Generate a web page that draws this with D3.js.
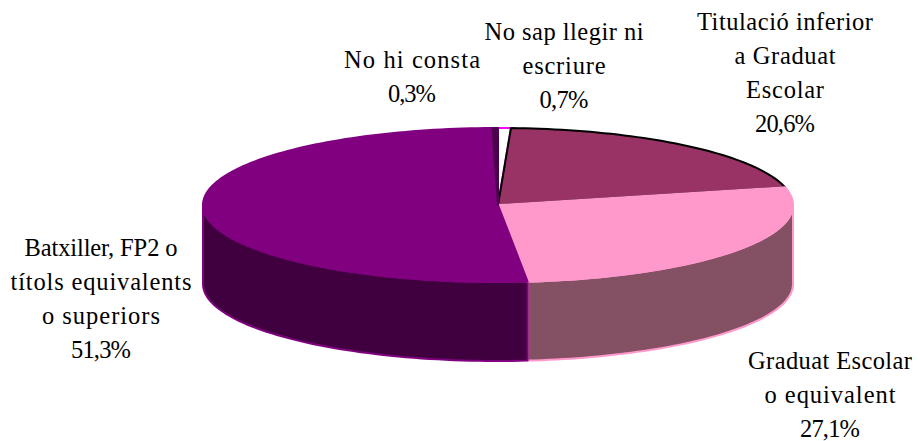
<!DOCTYPE html>
<html>
<head>
<meta charset="utf-8">
<script src="https://cdn.jsdelivr.net/npm/d3@7"></script>
<style>
  html, body { margin: 0; background: #fff; }
  text { font-family: "Liberation Serif", serif; font-size: 24.5px; fill: #000; }
</style>
</head>
<body>
<div id="graph"></div>
<script>
// order is clockwise starting from 12 o'clock
const categories = ["No sap llegir ni escriure", "Titulació inferior a Graduat Escolar", "Graduat Escolar o equivalent", "Batxiller, FP2 o títols equivalents o superiors", "No hi consta"];
const values = [0.7, 20.6, 27.1, 51.3, 0.3];
const topColors = ["#ffffff", "#993366", "#ff99cc", "#800080", "#4d004d"];
const sideColors = ["#808080", "#4d1a33", "#845064", "#400040", "#400040"];
const edgeColors = ["#ff00ff", "#000000", "#ff99cc", "#800080", "#4d004d"];
const labelLines = [
  ["No sap llegir ni", "escriure", "0,7%"],
  ["Titulació inferior", "a Graduat", "Escolar", "20,6%"],
  ["Graduat Escolar", "o equivalent", "27,1%"],
  ["Batxiller, FP2 o", "títols equivalents", "o superiors", "51,3%"],
  ["No hi consta", "0,3%"]
];

function chart() {
  const width = 920;
  const height = 441;
  const cx = 498;
  const cy = 205;
  const rx = 295;
  const ry = 77;
  const depth = 79;
  const lineGap = 34;
  // label placement, the original text is stretched line by line
  const labelX = [564, 785, 830, 101, 412];
  const labelY = [40, 30, 369, 256, 68];
  const lineWidths = [
    [159, 83, 49],
    [176, 101, 78, 60],
    [164, 131, 60],
    [153, 181, 118, 60],
    [136, 48]
  ];

  const svg = d3.select("#graph").append("svg")
    .attr("width", width)
    .attr("height", height)
    .style("display", "block");

  const slices = d3.pie().sort(null).value(d => d)(values);

  // unit circle squashed to the ellipse of the top face
  const px = d3.scaleLinear().domain([-1, 1]).range([cx - rx, cx + rx]);
  const py = d3.scaleLinear().domain([-1, 1]).range([cy - ry, cy + ry]);
  const pointAt = a => [px(Math.sin(a)), py(-Math.cos(a))];

  function sidePath(a0, a1) {
    const n = 60;
    const angles = d3.range(n + 1).map(i => a0 + (a1 - a0) * i / n);
    const upper = angles.map(pointAt);
    const lower = angles.slice().reverse().map(a => {
      const p = pointAt(a);
      return [p[0], p[1] + depth];
    });
    return d3.line()(upper.concat(lower)) + "Z";
  }

  function topPath(d) {
    const n = Math.max(2, Math.ceil((d.endAngle - d.startAngle) * 40));
    const pts = [[cx, cy]];
    d3.range(n + 1).forEach(i => {
      pts.push(pointAt(d.startAngle + (d.endAngle - d.startAngle) * i / n));
    });
    return d3.line()(pts) + "Z";
  }

  // only the front half of the rim is visible
  const frontFrom = Math.PI / 2;
  const frontTo = Math.PI * 3 / 2;
  const sides = slices
    .map((d, i) => ({ i: i, a0: Math.max(d.startAngle, frontFrom), a1: Math.min(d.endAngle, frontTo) }))
    .filter(d => d.a1 > d.a0);

  svg.append("g").selectAll("path")
    .data(sides)
    .enter().append("path")
    .attr("d", d => sidePath(d.a0, d.a1))
    .attr("fill", d => sideColors[d.i])
    .attr("stroke", d => edgeColors[d.i])
    .attr("stroke-width", 2)
    .attr("stroke-linejoin", "round");

  svg.append("g").selectAll("path")
    .data(slices)
    .enter().append("path")
    .attr("d", topPath)
    .attr("fill", (d, i) => topColors[i])
    .attr("stroke", (d, i) => edgeColors[i])
    .attr("stroke-width", 2)
    .attr("stroke-linejoin", "round");

  const labels = svg.append("g").selectAll("g")
    .data(labelLines)
    .enter().append("g")
    .attr("data-category", (d, i) => categories[i]);

  labels.selectAll("text")
    .data((d, i) => d.map((t, j) => ({ t: t, x: labelX[i], y: labelY[i] + j * lineGap, w: lineWidths[i][j] })))
    .enter().append("text")
    .attr("text-anchor", "middle")
    .attr("x", d => d.x)
    .attr("y", d => d.y)
    .attr("textLength", d => d.w)
    .attr("lengthAdjust", "spacing")
    .text(d => d.t);
}

chart();
</script>
</body>
</html>
